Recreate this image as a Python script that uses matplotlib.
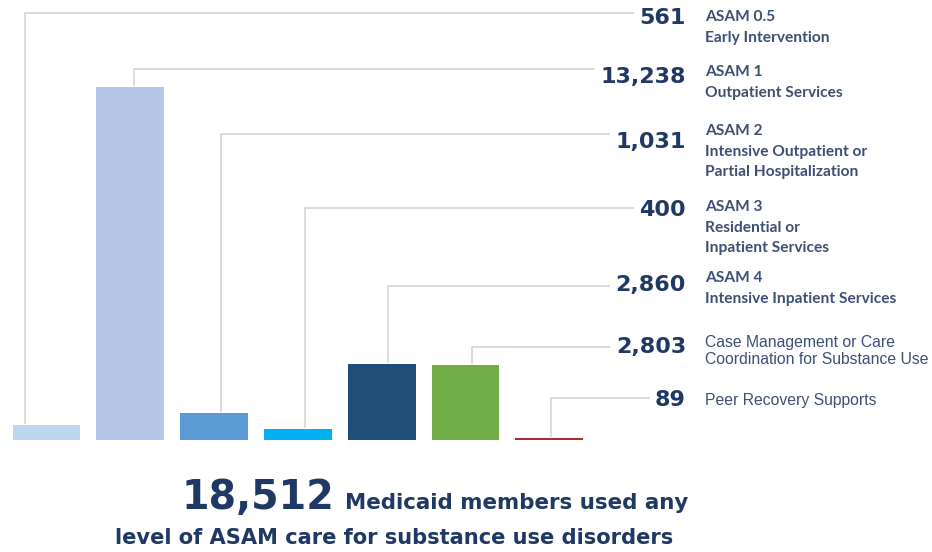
import numpy as np
import matplotlib.pyplot as plt
from matplotlib.lines import Line2D

# data
values = [561, 13238, 1031, 400, 2860, 2803, 89]
value_labels = ["561", "13,238", "1,031", "400", "2,860", "2,803", "89"]
descriptions = [
    "ASAM 0.5\nEarly Intervention",
    "ASAM 1\nOutpatient Services",
    "ASAM 2\nIntensive Outpatient or\nPartial Hospitalization",
    "ASAM 3\nResidential or\nInpatient Services",
    "ASAM 4\nIntensive Inpatient Services",
    "Case Management or Care\nCoordination for Substance Use",
    "Peer Recovery Supports",
]
total_label = "18,512"
bar_colors = ["#bdd7ee", "#b4c7e7", "#5b9bd5", "#00b0f0", "#1f4e79", "#70ad47", "#a5302a"]

# layout (pixels, from top)
W, H = 932, 552
row_y = [13, 69, 134, 208, 286, 347, 398]       # leader line levels
num_y = [18, 77, 142, 210, 285, 347, 400]       # number centres
desc_y = [15, 70, 129, 205, 276, 341, 399]      # first description line centres
leader_dx = [-0.26, 0.05, 0.08, 0.09, 0.08, 0.08, 0.02]
lead_col = "#d4d4d4"
navy = "#1f3864"
desc_col = "#3d4f74"

fig = plt.figure(figsize=(W / 100, H / 100), dpi=100)
fig.patch.set_facecolor("white")

# bar axes: baseline at y=440, x centres every ~84px
ax = fig.add_axes([4.6 / W, (H - 440) / H, 586.6 / W, 440 / H])
ax.set_xlim(-0.5, 6.5)
ax.set_ylim(0, 13238 * 440 / 353)
ax.axis("off")

x = np.arange(len(values))
ax.bar(x, values, width=0.81, color=bar_colors)

fig.canvas.draw()
to_pix = ax.transData


def fx(px):
    return px / W


def fy(py):
    return 1 - py / H


for i, v in enumerate(values):
    xp, yp = to_pix.transform((x[i] + leader_dx[i], v))
    top = H - yp - 2
    xs = [xp, xp, 680]
    ys = [top, row_y[i], row_y[i]]
    fig.add_artist(Line2D([fx(a) for a in xs], [fy(b) for b in ys],
                          color=lead_col, lw=1.2, zorder=1))
    fig.text(fx(686), fy(num_y[i]), value_labels[i], ha="right", va="center",
             fontsize=16, fontweight="bold", color=navy, family="DejaVu Sans",
             bbox=dict(facecolor="white", edgecolor="none", pad=4), zorder=3)
    if i < 5:
        fig.text(fx(705), fy(desc_y[i] - 5), descriptions[i], ha="left", va="top",
                 fontsize=11.2, fontweight="bold", color=desc_col, family="Lato",
                 linespacing=1.6)
    else:
        fig.text(fx(705), fy(desc_y[i] - 6), descriptions[i], ha="left", va="top",
                 fontsize=11.3, color=desc_col, family="Liberation Sans",
                 linespacing=1.2)

# summary text
fig.text(fx(182), fy(498), total_label, ha="left", va="center", fontsize=28.5,
         fontweight="bold", color=navy, family="DejaVu Sans")
fig.text(fx(345), fy(503), "Medicaid members used any", ha="left", va="center",
         fontsize=15.4, fontweight="bold", color=navy, family="DejaVu Sans")
fig.text(fx(115), fy(538), "level of ASAM care for substance use disorders", ha="left",
         va="center", fontsize=15.1, fontweight="bold", color=navy, family="DejaVu Sans")

fig.savefig("out.png", dpi=100, facecolor="white")
